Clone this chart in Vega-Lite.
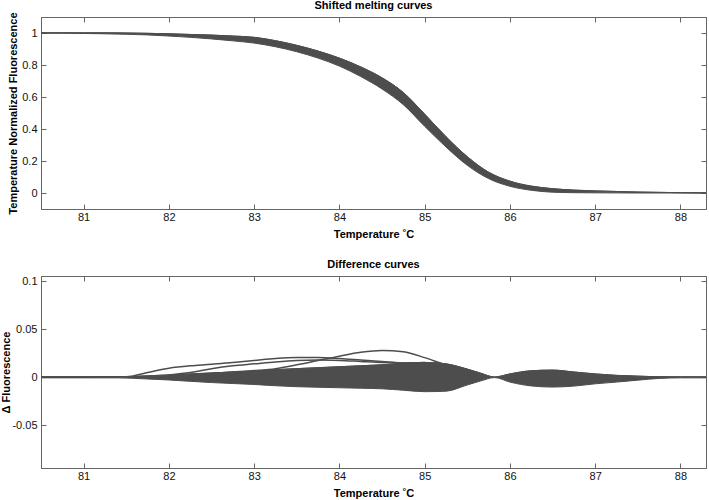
{
  "$schema": "https://vega.github.io/schema/vega-lite/v6.json",
  "padding": {"left": -1, "top": -1, "right": 0, "bottom": 0},
  "bounds": "flush",
  "spacing": 67,
  "background": "white",
  "config": {
    "font": "Liberation Sans",
    "view": {"stroke": "#666666", "strokeWidth": 1},
    "axis": {
      "labelFont": "Liberation Sans", "labelFontSize": 11, "labelColor": "#111111",
      "titleFont": "Liberation Sans", "titleFontSize": 11, "titleFontWeight": "bold", "titleColor": "#000000",
      "domainColor": "#666666", "tickColor": "#666666", "tickSize": -5, "grid": false, "labelPadding": 9
    },
    "axisX": {"labelPadding": 7},
    "title": {"font": "Liberation Sans", "fontSize": 11, "fontWeight": "bold", "color": "#000000", "anchor": "middle"}
  },
  "datasets": {
    "top": [
      {"x": 80.5, "lo": 0.999, "hi": 1.001},
      {"x": 80.75, "lo": 0.999, "hi": 1.001},
      {"x": 81.0, "lo": 0.997, "hi": 1.001},
      {"x": 81.25, "lo": 0.995, "hi": 1.001},
      {"x": 81.5, "lo": 0.992, "hi": 1.0},
      {"x": 81.75, "lo": 0.988, "hi": 0.998},
      {"x": 82.0, "lo": 0.981, "hi": 0.995},
      {"x": 82.25, "lo": 0.973, "hi": 0.991},
      {"x": 82.5, "lo": 0.963, "hi": 0.987},
      {"x": 82.75, "lo": 0.951, "hi": 0.981},
      {"x": 83.0, "lo": 0.937, "hi": 0.973},
      {"x": 83.25, "lo": 0.914, "hi": 0.952},
      {"x": 83.5, "lo": 0.883, "hi": 0.923},
      {"x": 83.75, "lo": 0.843, "hi": 0.887},
      {"x": 84.0, "lo": 0.793, "hi": 0.843},
      {"x": 84.25, "lo": 0.728, "hi": 0.788},
      {"x": 84.5, "lo": 0.65, "hi": 0.72},
      {"x": 84.75, "lo": 0.552, "hi": 0.628},
      {"x": 85.0, "lo": 0.417, "hi": 0.493},
      {"x": 85.25, "lo": 0.288, "hi": 0.352},
      {"x": 85.5, "lo": 0.173, "hi": 0.227},
      {"x": 85.75, "lo": 0.09, "hi": 0.13},
      {"x": 86.0, "lo": 0.042, "hi": 0.074},
      {"x": 86.25, "lo": 0.017, "hi": 0.043},
      {"x": 86.5, "lo": 0.005, "hi": 0.027},
      {"x": 86.75, "lo": 0.002, "hi": 0.018},
      {"x": 87.0, "lo": 0.001, "hi": 0.013},
      {"x": 87.5, "lo": 0.0, "hi": 0.006},
      {"x": 88.0, "lo": 0.0, "hi": 0.002},
      {"x": 88.3, "lo": -0.001, "hi": 0.001}
    ],
    "diff": [
      {"x": 80.5, "lo": -0.0006, "hi": 0.0006},
      {"x": 81.0, "lo": -0.0006, "hi": 0.0006},
      {"x": 81.4, "lo": -0.0006, "hi": 0.0006},
      {"x": 81.75, "lo": -0.0018, "hi": 0.0015},
      {"x": 82.0, "lo": -0.0028, "hi": 0.0025},
      {"x": 82.25, "lo": -0.0042, "hi": 0.0035},
      {"x": 82.5, "lo": -0.0055, "hi": 0.0045},
      {"x": 82.75, "lo": -0.0065, "hi": 0.0055},
      {"x": 83.0, "lo": -0.0075, "hi": 0.0065},
      {"x": 83.25, "lo": -0.0088, "hi": 0.008},
      {"x": 83.5, "lo": -0.0098, "hi": 0.009},
      {"x": 83.75, "lo": -0.0104, "hi": 0.01},
      {"x": 84.0, "lo": -0.0109, "hi": 0.011},
      {"x": 84.25, "lo": -0.0114, "hi": 0.012},
      {"x": 84.5, "lo": -0.012, "hi": 0.013},
      {"x": 84.75, "lo": -0.0135, "hi": 0.0145},
      {"x": 85.0, "lo": -0.015, "hi": 0.0155},
      {"x": 85.25, "lo": -0.0145, "hi": 0.014},
      {"x": 85.5, "lo": -0.008, "hi": 0.0085},
      {"x": 85.65, "lo": -0.004, "hi": 0.0045},
      {"x": 85.82, "lo": -0.0003, "hi": 0.0003},
      {"x": 86.0, "lo": -0.005, "hi": 0.0035},
      {"x": 86.25, "lo": -0.009, "hi": 0.0068},
      {"x": 86.5, "lo": -0.0102, "hi": 0.0075},
      {"x": 86.75, "lo": -0.0092, "hi": 0.0055},
      {"x": 87.0, "lo": -0.0068, "hi": 0.0035},
      {"x": 87.25, "lo": -0.005, "hi": 0.002},
      {"x": 87.5, "lo": -0.003, "hi": 0.0012},
      {"x": 87.75, "lo": -0.0012, "hi": 0.0006},
      {"x": 88.0, "lo": -0.0006, "hi": 0.0005},
      {"x": 88.3, "lo": -0.0006, "hi": 0.0005}
    ],
    "lines": [
      {"curve": "A", "x": 80.5, "y": 0.0},
      {"curve": "A", "x": 81.5, "y": 0.0005},
      {"curve": "A", "x": 81.75, "y": 0.005},
      {"curve": "A", "x": 82.0, "y": 0.0095},
      {"curve": "A", "x": 82.25, "y": 0.012},
      {"curve": "A", "x": 82.5, "y": 0.0135},
      {"curve": "A", "x": 82.75, "y": 0.0155},
      {"curve": "A", "x": 83.0, "y": 0.0175},
      {"curve": "A", "x": 83.25, "y": 0.0195},
      {"curve": "A", "x": 83.5, "y": 0.0205},
      {"curve": "A", "x": 83.75, "y": 0.0205},
      {"curve": "A", "x": 84.0, "y": 0.0195},
      {"curve": "A", "x": 84.25, "y": 0.018},
      {"curve": "A", "x": 84.5, "y": 0.0165},
      {"curve": "A", "x": 84.75, "y": 0.015},
      {"curve": "A", "x": 85.0, "y": 0.015},
      {"curve": "B", "x": 82.25, "y": 0.002},
      {"curve": "B", "x": 82.5, "y": 0.004},
      {"curve": "B", "x": 82.75, "y": 0.0055},
      {"curve": "B", "x": 83.0, "y": 0.007},
      {"curve": "B", "x": 83.25, "y": 0.009},
      {"curve": "B", "x": 83.5, "y": 0.013},
      {"curve": "B", "x": 83.75, "y": 0.0175},
      {"curve": "B", "x": 84.0, "y": 0.022},
      {"curve": "B", "x": 84.25, "y": 0.026},
      {"curve": "B", "x": 84.5, "y": 0.028},
      {"curve": "B", "x": 84.75, "y": 0.0265},
      {"curve": "B", "x": 85.0, "y": 0.0205},
      {"curve": "B", "x": 85.25, "y": 0.013},
      {"curve": "B", "x": 85.5, "y": 0.008},
      {"curve": "C", "x": 82.0, "y": 0.0025},
      {"curve": "C", "x": 82.25, "y": 0.005},
      {"curve": "C", "x": 82.5, "y": 0.009},
      {"curve": "C", "x": 82.75, "y": 0.012},
      {"curve": "C", "x": 83.0, "y": 0.014},
      {"curve": "C", "x": 83.25, "y": 0.016},
      {"curve": "C", "x": 83.5, "y": 0.0175},
      {"curve": "C", "x": 83.75, "y": 0.018},
      {"curve": "C", "x": 84.0, "y": 0.0175},
      {"curve": "C", "x": 84.25, "y": 0.0165},
      {"curve": "C", "x": 84.5, "y": 0.0155},
      {"curve": "C", "x": 84.75, "y": 0.015},
      {"curve": "C", "x": 85.0, "y": 0.0155}
    ]
  },
  "vconcat": [
    {
      "width": 665,
      "height": 192,
      "title": {"text": "Shifted melting curves", "offset": 1},
      "data": {"name": "top"},
      "resolve": {"axis": {"x": "independent", "y": "independent"}},
      "layer": [
        {
          "mark": {"type": "area", "interpolate": "monotone", "color": "#4d4d4d", "stroke": "#4d4d4d", "strokeWidth": 1, "clip": true},
          "encoding": {
            "x": {"field": "x", "type": "quantitative", "scale": {"domain": [80.5, 88.3], "nice": false, "zero": false},
                  "axis": {"orient": "bottom", "values": [81, 82, 83, 84, 85, 86, 87, 88], "title": "Temperature ˚C", "titleY": 19}},
            "y": {"field": "lo", "type": "quantitative", "scale": {"domain": [-0.1, 1.1], "nice": false, "zero": false},
                  "axis": {"orient": "left", "values": [0, 0.2, 0.4, 0.6, 0.8, 1], "format": "~g", "title": "Temperature Normalized Fluorescence", "titleBaseline": "middle", "titleX": -28, "titleY": 96}},
            "y2": {"field": "hi"}
          }
        },
        {
          "mark": {"type": "line", "interpolate": "monotone", "color": "#4d4d4d", "strokeWidth": 1, "clip": true},
          "encoding": {
            "x": {"field": "x", "type": "quantitative", "axis": {"orient": "top", "values": [81, 82, 83, 84, 85, 86, 87, 88], "labels": false, "title": null}},
            "y": {"field": "hi", "type": "quantitative", "axis": {"orient": "right", "values": [0, 0.2, 0.4, 0.6, 0.8, 1], "labels": false, "title": null}}
          }
        }
      ]
    },
    {
      "width": 665,
      "height": 192,
      "title": {"text": "Difference curves", "offset": 5},
      "resolve": {"axis": {"x": "independent", "y": "independent"}},
      "layer": [
        {
          "data": {"name": "diff"},
          "mark": {"type": "area", "interpolate": "monotone", "color": "#4d4d4d", "stroke": "#4d4d4d", "strokeWidth": 1, "clip": true},
          "encoding": {
            "x": {"field": "x", "type": "quantitative", "scale": {"domain": [80.5, 88.3], "nice": false, "zero": false},
                  "axis": {"orient": "bottom", "values": [81, 82, 83, 84, 85, 86, 87, 88], "title": "Temperature ˚C", "titleY": 19}},
            "y": {"field": "lo", "type": "quantitative", "scale": {"domain": [-0.0945, 0.1055], "nice": false, "zero": false},
                  "axis": {"orient": "left", "values": [-0.05, 0, 0.05, 0.1], "format": "~g", "labelExpr": "replace(datum.label, '−', '-')", "title": "Δ Fluorescence", "titleBaseline": "middle", "titleX": -35, "titleY": 96}},
            "y2": {"field": "hi"}
          }
        },
        {
          "data": {"name": "diff"},
          "mark": {"type": "line", "interpolate": "monotone", "color": "#4d4d4d", "strokeWidth": 1, "clip": true},
          "encoding": {
            "x": {"field": "x", "type": "quantitative", "axis": {"orient": "top", "values": [81, 82, 83, 84, 85, 86, 87, 88], "labels": false, "title": null}},
            "y": {"field": "hi", "type": "quantitative", "axis": {"orient": "right", "values": [-0.05, 0, 0.05, 0.1], "labels": false, "title": null}}
          }
        },
        {
          "data": {"name": "lines"},
          "mark": {"type": "line", "interpolate": "monotone", "color": "#4d4d4d", "strokeWidth": 1.5, "clip": true},
          "encoding": {
            "x": {"field": "x", "type": "quantitative", "axis": null},
            "y": {"field": "y", "type": "quantitative", "axis": null},
            "detail": {"field": "curve"}
          }
        }
      ]
    }
  ]
}
